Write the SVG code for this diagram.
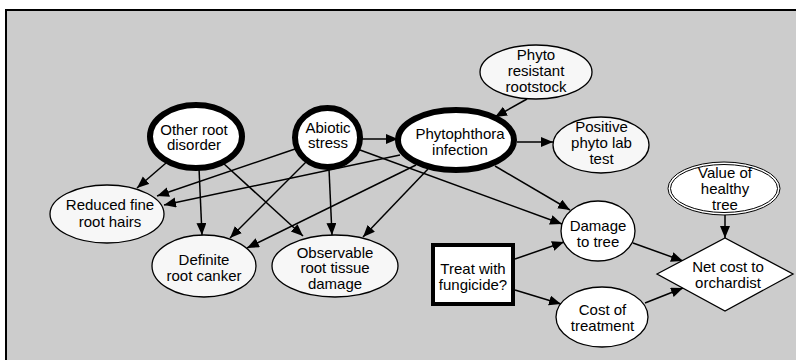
<svg xmlns="http://www.w3.org/2000/svg" width="796" height="360" viewBox="0 0 796 360">
<defs>
<marker id="arr" markerUnits="userSpaceOnUse" markerWidth="13" markerHeight="11" refX="12" refY="5" orient="auto">
<path d="M0,0 L12,5 L0,10 z" fill="#000"/>
</marker>
<style>
text{font-family:"Liberation Sans",Arial,sans-serif;font-size:15px;fill:#000;text-anchor:middle}
.n{fill:#f7f7f7;stroke:#000;stroke-width:1.3}
.w{fill:#fff;stroke:#000;stroke-width:1.3}
.k{fill:#fff;stroke:#000;stroke-width:6}
.e line{stroke:#000;stroke-width:1.5;marker-end:url(#arr)}
</style>
</defs>
<rect x="0" y="0" width="796" height="360" fill="#fff"/>
<rect x="6" y="10" width="800" height="360" fill="#cccccc" stroke="#000" stroke-width="2"/>
<g class="e" id="connectors">
<line x1="166" y1="163" x2="137" y2="188"/>
<line x1="199" y1="168" x2="202" y2="235"/>
<line x1="223" y1="163" x2="303" y2="236"/>
<line x1="295" y1="149" x2="157" y2="196"/>
<line x1="400" y1="155" x2="164" y2="205"/>
<line x1="362" y1="139" x2="398" y2="139"/>
<line x1="306" y1="162" x2="230" y2="238"/>
<line x1="329" y1="169" x2="332" y2="235"/>
<line x1="360" y1="150" x2="562" y2="224"/>
<line x1="495" y1="166" x2="570" y2="210"/>
<line x1="416" y1="165" x2="247" y2="248"/>
<line x1="428" y1="169" x2="363" y2="237"/>
<line x1="527" y1="99" x2="495" y2="117"/>
<line x1="517" y1="142" x2="553" y2="142"/>
<line x1="633" y1="243" x2="683" y2="261"/>
<line x1="645" y1="303" x2="683" y2="288"/>
<line x1="515" y1="259" x2="564" y2="242"/>
<line x1="515" y1="290" x2="561" y2="304"/>
<line x1="725" y1="215" x2="725" y2="238"/>
</g>
<g id="other_root_disorder"><ellipse class="k" cx="196" cy="136.5" rx="46" ry="31.5"/><text x="194" y="134.5">Other root</text><text x="194" y="150">disorder</text></g>
<g id="abiotic_stress"><ellipse class="k" cx="327.5" cy="137.5" rx="32.5" ry="29.5"/><text x="328" y="132.5">Abiotic</text><text x="328" y="148">stress</text></g>
<g id="phytophthora_infection"><ellipse class="k" cx="456" cy="140" rx="58" ry="30"/><text x="460" y="139">Phytophthora</text><text x="460" y="155">infection</text></g>
<g id="phyto_resistant_rootstock"><ellipse class="n" cx="536" cy="72" rx="56" ry="27"/><text x="536" y="60">Phyto</text><text x="536" y="76">resistant</text><text x="536" y="92">rootstock</text></g>
<g id="positive_phyto_lab_test"><ellipse class="n" cx="601" cy="145" rx="48" ry="28"/><text x="601.5" y="132">Positive</text><text x="601.5" y="148">phyto lab</text><text x="601.5" y="163.5">test</text></g>
<g id="reduced_fine_root_hairs"><ellipse class="n" cx="107" cy="214" rx="57" ry="29"/><text x="110" y="210">Reduced fine</text><text x="110" y="227">root hairs</text></g>
<g id="definite_root_canker"><ellipse class="n" cx="204" cy="266" rx="52" ry="31"/><text x="204" y="265">Definite</text><text x="204" y="281">root canker</text></g>
<g id="observable_root_tissue_damage"><ellipse class="n" cx="335" cy="266" rx="63" ry="31"/><text x="335" y="257.5">Observable</text><text x="335" y="273">root tissue</text><text x="335" y="288.5">damage</text></g>
<g id="damage_to_tree"><ellipse class="w" cx="598" cy="231" rx="37" ry="30"/><text x="598" y="231">Damage</text><text x="598" y="246.5">to tree</text></g>
<g id="treat_with_fungicide"><rect x="433" y="245" width="80" height="59" fill="#fff" stroke="#000" stroke-width="4"/><text x="473" y="274">Treat with</text><text x="473" y="289.5">fungicide?</text></g>
<g id="cost_of_treatment"><ellipse class="w" cx="602" cy="317" rx="46" ry="30"/><text x="602.5" y="315">Cost of</text><text x="602.5" y="330.5">treatment</text></g>
<g id="value_of_healthy_tree"><ellipse cx="724" cy="188.5" rx="56" ry="26.5" fill="#fff" stroke="#000" stroke-width="1"/><ellipse cx="724" cy="188.5" rx="53.5" ry="24" fill="none" stroke="#000" stroke-width="1"/><text x="725" y="178">Value of</text><text x="725" y="194">healthy</text><text x="725" y="209.5">tree</text></g>
<g id="net_cost_to_orchardist"><polygon points="657,274 725,238 793,274 725,311" fill="#fff" stroke="#000" stroke-width="1.3"/><text x="728" y="272">Net cost to</text><text x="728" y="288">orchardist</text></g>
</svg>
